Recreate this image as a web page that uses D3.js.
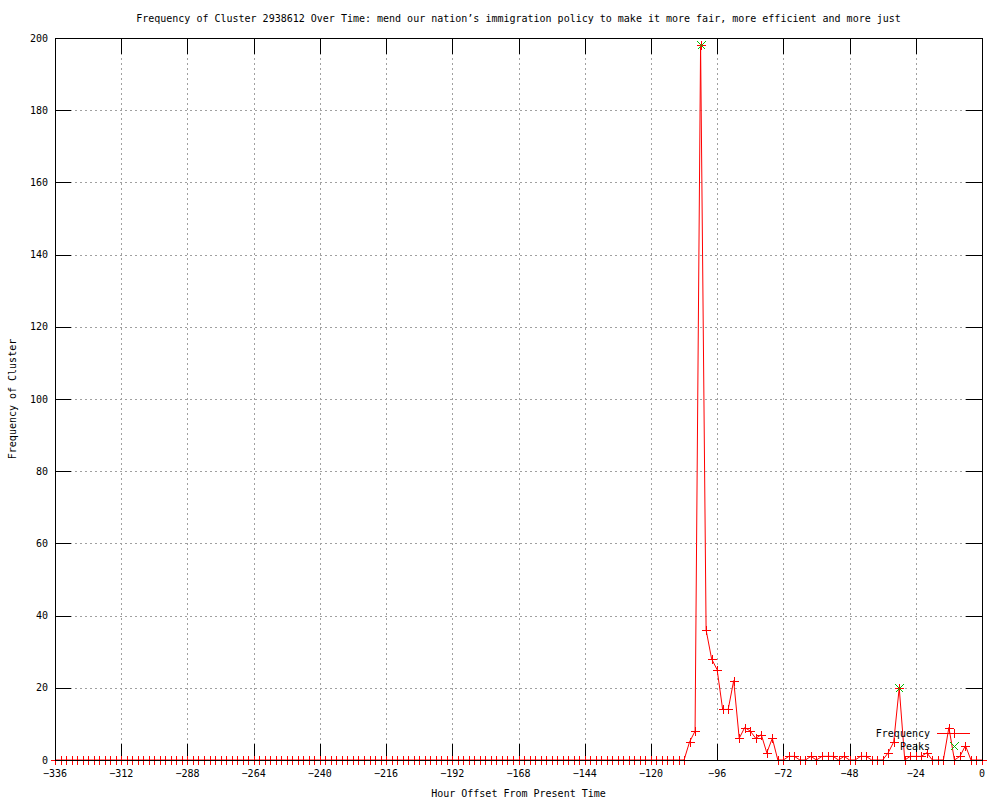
<!DOCTYPE html>
<html>
<head>
<meta charset="utf-8">
<script src="https://cdn.jsdelivr.net/npm/d3@7"></script>
<style>
  body { margin: 0; background: #fff; }
  svg { display: block; }
  text { font-family: "DejaVu Sans Mono", monospace; font-size: 10px; fill: #000; }
</style>
</head>
<body>
<svg id="chart" width="1000" height="800"></svg>
<script>
// Values, one sample every 2 hours
const hours = d3.range(-336, 1, 2)
const frequency = [
  // -336 .. -108 : nothing
  0, 0, 0, 0, 0, 0, 0, 0, 0, 0, 0, 0, 0, 0, 0, 0, 0, 0, 0, 0,
  0, 0, 0, 0, 0, 0, 0, 0, 0, 0, 0, 0, 0, 0, 0, 0, 0, 0, 0, 0,
  0, 0, 0, 0, 0, 0, 0, 0, 0, 0, 0, 0, 0, 0, 0, 0, 0, 0, 0, 0,
  0, 0, 0, 0, 0, 0, 0, 0, 0, 0, 0, 0, 0, 0, 0, 0, 0, 0, 0, 0,
  0, 0, 0, 0, 0, 0, 0, 0, 0, 0, 0, 0, 0, 0, 0, 0, 0, 0, 0, 0,
  0, 0, 0, 0, 0, 0, 0, 0, 0, 0, 0, 0, 0, 0, 0,
  // -106 .. 0
  5, 8, 198, 36, 28, 25, 14, 14, 22, 6,
  9, 8, 6, 7, 2, 6, 0, 0, 1, 1,
  0, 0, 1, 0, 1, 1, 1, 0, 1, 0,
  0, 1, 1, 0, 0, 0, 2, 5, 20, 0,
  1, 1, 1, 2, 0, 0, 0, 9, 0, 1,
  4, 0, 0, 0
]
const peakHours = [-102, -30]
const peakValues = [198, 20]

const xTicks = [-336, -312, -288, -264, -240, -216, -192, -168, -144, -120, -96, -72, -48, -24, 0]
const yTicks = [0, 20, 40, 60, 80, 100, 120, 140, 160, 180, 200]

const title = "Frequency of Cluster 2938612 Over Time: mend our nation\u2019s immigration policy to make it more fair, more efficient and more just"
const xLabel = "Hour Offset From Present Time"
const yLabel = "Frequency of Cluster"
const seriesNames = ["Frequency", "Peaks"]

const red = "#ff0000"
const green = "#00c000"

const plotLeft = 55, plotRight = 982, plotTop = 38, plotBottom = 760
const tickLen = 16
const ms = 4

const x = d3.scaleLinear().domain([-336, 0]).range([plotLeft, plotRight])
const y = d3.scaleLinear().domain([0, 200]).range([plotBottom, plotTop])

const svg = d3.select("#chart")
const px = v => Math.round(v) + 0.5

// grid
const grid = svg.append("g")
  .attr("stroke", "#a0a0a0")
  .attr("stroke-dasharray", "2,3")
  .attr("shape-rendering", "crispEdges")
grid.selectAll(".gx")
  .data(xTicks.slice(1, -1))
  .join("line")
  .attr("x1", d => px(x(d))).attr("x2", d => px(x(d)))
  .attr("y1", plotTop).attr("y2", plotBottom)
grid.selectAll(".gy")
  .data(yTicks.slice(1, -1))
  .join("line")
  .attr("y1", d => px(y(d))).attr("y2", d => px(y(d)))
  .attr("x1", plotLeft).attr("x2", plotRight)

// ticks, drawn inward on all four sides
const ticks = svg.append("g")
  .attr("stroke", "#000")
  .attr("shape-rendering", "crispEdges")
ticks.selectAll(".tb")
  .data(xTicks)
  .join("path")
  .attr("d", d => `M${px(x(d))},${plotBottom}v${-tickLen}M${px(x(d))},${plotTop}v${tickLen}`)
ticks.selectAll(".tl")
  .data(yTicks)
  .join("path")
  .attr("d", d => `M${plotLeft},${px(y(d))}h${tickLen}M${plotRight},${px(y(d))}h${-tickLen}`)

// tick labels
svg.append("g")
  .selectAll("text")
  .data(xTicks)
  .join("text")
  .attr("x", d => x(d))
  .attr("y", 777)
  .attr("text-anchor", "middle")
  .text(d => d < 0 ? "\u2212" + Math.abs(d) : d)
svg.append("g")
  .selectAll("text")
  .data(yTicks)
  .join("text")
  .attr("x", 48)
  .attr("y", d => y(d) + 3.5)
  .attr("text-anchor", "end")
  .text(d => d)

// frequency line + markers
const line = d3.line()
  .x((d, i) => x(hours[i]))
  .y(d => y(d))
svg.append("path")
  .datum(frequency)
  .attr("d", line)
  .attr("fill", "none")
  .attr("stroke", red)
  .attr("stroke-width", 1)

const plus = (cx, cy) => `M${Math.round(cx) - ms},${px(cy)}h${2 * ms + 1}M${px(cx)},${Math.round(cy) - ms}v${2 * ms + 1}`
const cross = (cx, cy) => {
  const cxr = Math.round(cx) + 0.5, cyr = Math.round(cy) + 0.5
  return `M${cxr - ms},${cyr - ms}L${cxr + ms},${cyr + ms}M${cxr - ms},${cyr + ms}L${cxr + ms},${cyr - ms}`
}

svg.append("g")
  .attr("stroke", red)
  .attr("shape-rendering", "crispEdges")
  .selectAll("path")
  .data(frequency)
  .join("path")
  .attr("d", (d, i) => plus(x(hours[i]), y(d)))

svg.append("g")
  .attr("stroke", green)
  .attr("shape-rendering", "crispEdges")
  .selectAll("path")
  .data(peakValues)
  .join("path")
  .attr("d", (d, i) => cross(x(peakHours[i]), y(d)))

// frame
svg.append("rect")
  .attr("x", plotLeft + 0.5).attr("y", plotTop + 0.5)
  .attr("width", plotRight - plotLeft).attr("height", plotBottom - plotTop)
  .attr("fill", "none")
  .attr("stroke", "#000")
  .attr("shape-rendering", "crispEdges")

// legend
const legend = svg.append("g")
legend.selectAll("text")
  .data(seriesNames)
  .join("text")
  .attr("x", 930)
  .attr("y", (d, i) => 736.5 + i * 13.5)
  .attr("text-anchor", "end")
  .text(d => d)
legend.append("path")
  .attr("d", "M937,733.5H970")
  .attr("stroke", red)
  .attr("shape-rendering", "crispEdges")
legend.append("path")
  .attr("d", plus(953.5, 733))
  .attr("stroke", red)
  .attr("shape-rendering", "crispEdges")
legend.append("path")
  .attr("d", cross(953.5, 746))
  .attr("stroke", green)
  .attr("shape-rendering", "crispEdges")

// titles
svg.append("text")
  .attr("x", (plotLeft + plotRight) / 2)
  .attr("y", 22)
  .attr("text-anchor", "middle")
  .text(title)
svg.append("text")
  .attr("x", (plotLeft + plotRight) / 2)
  .attr("y", 797)
  .attr("text-anchor", "middle")
  .text(xLabel)
svg.append("text")
  .attr("transform", `translate(16,${(plotTop + plotBottom) / 2}) rotate(-90)`)
  .attr("text-anchor", "middle")
  .text(yLabel)
</script>
</body>
</html>
